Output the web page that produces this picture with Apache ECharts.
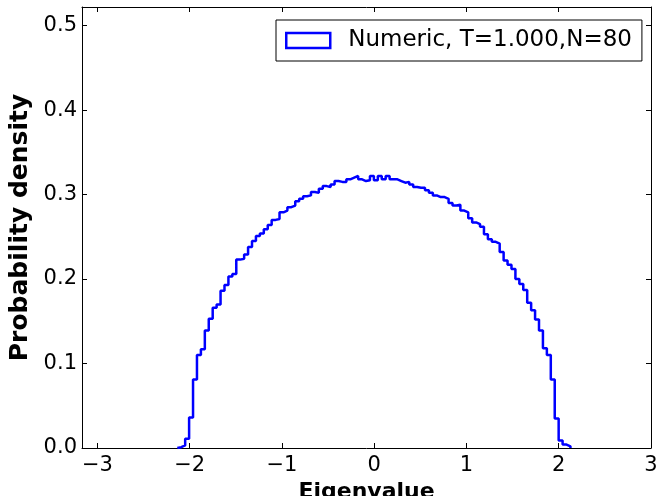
<!DOCTYPE html>
<html>
<head>
<meta charset="utf-8">
<script src="https://cdn.jsdelivr.net/npm/echarts@6/dist/echarts.min.js"></script>
<style>
html,body{margin:0;padding:0;background:#fff;}
#chart{width:658px;height:496px;}
</style>
</head>
<body>
<div id="chart"></div>
<script>
// Histogram (step) of eigenvalues: 100 bins between binLo and binHi
const binLo = -2.134;
const binHi = 2.127;
const densities = [
  0.001, 0.003, 0.011, 0.036, 0.081, 0.110, 0.117, 0.139, 0.153, 0.166,
  0.170, 0.186, 0.193, 0.203, 0.206, 0.223, 0.224, 0.229, 0.238, 0.245,
  0.251, 0.254, 0.259, 0.264, 0.270, 0.271, 0.279, 0.281, 0.285, 0.287,
  0.292, 0.295, 0.298, 0.299, 0.303, 0.302, 0.307, 0.310, 0.309, 0.312,
  0.316, 0.315, 0.315, 0.318, 0.320, 0.322, 0.318, 0.316, 0.317, 0.322,
  0.317, 0.322, 0.318, 0.322, 0.318, 0.318, 0.316, 0.314, 0.315, 0.312,
  0.309, 0.308, 0.308, 0.305, 0.302, 0.299, 0.297, 0.297, 0.295, 0.290,
  0.287, 0.288, 0.281, 0.279, 0.272, 0.267, 0.265, 0.262, 0.253, 0.247,
  0.244, 0.242, 0.232, 0.222, 0.217, 0.212, 0.200, 0.194, 0.187, 0.172,
  0.163, 0.152, 0.139, 0.118, 0.110, 0.081, 0.035, 0.009, 0.004, 0.002
];
const xTicks = [-3, -2, -1, 0, 1, 2, 3];
const yTicks = [0.0, 0.1, 0.2, 0.3, 0.4, 0.5];
const seriesName = 'Numeric, T=1.000,N=80';
const xTitle = 'Eigenvalue';
const yTitle = 'Probability density';

// build step outline (matplotlib histtype='step')
const nb = densities.length;
const edges = [];
for (let i = 0; i <= nb; i++) edges.push(binLo + i * (binHi - binLo) / nb);
const stepPts = [[edges[0], 0]];
for (let i = 0; i < nb; i++) {
  stepPts.push([edges[i], densities[i]]);
  stepPts.push([edges[i + 1], densities[i]]);
}
stepPts.push([edges[nb], 0]);

const FONT = 'DejaVu Sans';
const fmtX = v => String(v).replace('-', '\u2212');
const chart = echarts.init(document.getElementById('chart'), null, {renderer: 'canvas'});
const axisLine = {show: true, onZero: false, lineStyle: {color: '#000', width: 1}};
chart.setOption({
  animation: false,
  backgroundColor: '#fff',
  grid: {left: 82, right: 7, top: 7, bottom: 48, containLabel: false, outerBoundsMode: 'none'},
  legend: {
    left: 276, top: 20,
    padding: [9, 10, 9, 9],
    borderColor: '#000', borderWidth: 1, borderRadius: 0,
    backgroundColor: '#fff',
    itemWidth: 44, itemHeight: 15,
    icon: 'rect',
    itemStyle: {color: 'rgba(0,0,0,0)', borderColor: '#0000ff', borderWidth: 2.5},
    textStyle: {fontFamily: FONT, fontSize: 23, color: '#000', padding: [0, 0, 0, 13]},
    data: [seriesName]
  },
  xAxis: [{
    type: 'value', min: -3.167, max: 3, position: 'bottom',
    name: xTitle, nameLocation: 'middle', nameGap: 25,
    nameTextStyle: {fontFamily: FONT, fontSize: 22, fontWeight: 'bold', color: '#000'},
    axisLine: axisLine,
    axisTick: {show: true, inside: true, length: 5, customValues: xTicks, lineStyle: {color: '#000'}},
    axisLabel: {show: true, customValues: xTicks, formatter: fmtX, margin: 7, fontFamily: FONT, fontSize: 21, color: '#000'},
    splitLine: {show: false}
  }, {
    type: 'value', min: -3.167, max: 3, position: 'top',
    axisLine: axisLine,
    axisTick: {show: true, inside: true, length: 5, customValues: xTicks, lineStyle: {color: '#000'}},
    axisLabel: {show: false},
    splitLine: {show: false}
  }],
  yAxis: [{
    type: 'value', min: 0, max: 0.522, position: 'left',
    name: yTitle, nameLocation: 'middle', nameGap: 48, nameRotate: 90,
    nameTextStyle: {fontFamily: FONT, fontSize: 25, fontWeight: 'bold', color: '#000'},
    axisLine: axisLine,
    axisTick: {show: true, inside: true, length: 5, customValues: yTicks, lineStyle: {color: '#000'}},
    axisLabel: {show: true, customValues: yTicks, formatter: v => v.toFixed(1), margin: 5, fontFamily: FONT, fontSize: 21, color: '#000'},
    splitLine: {show: false}
  }, {
    type: 'value', min: 0, max: 0.522, position: 'right',
    axisLine: axisLine,
    axisTick: {show: true, inside: true, length: 5, customValues: yTicks, lineStyle: {color: '#000'}},
    axisLabel: {show: false},
    splitLine: {show: false}
  }],
  series: [{
    name: seriesName,
    type: 'line',
    xAxisIndex: 0, yAxisIndex: 0,
    data: stepPts,
    showSymbol: false,
    symbol: 'none',
    lineStyle: {color: '#0000ff', width: 2.5},
    itemStyle: {color: '#0000ff'},
    clip: true
  }]
});
</script>
</body>
</html>
